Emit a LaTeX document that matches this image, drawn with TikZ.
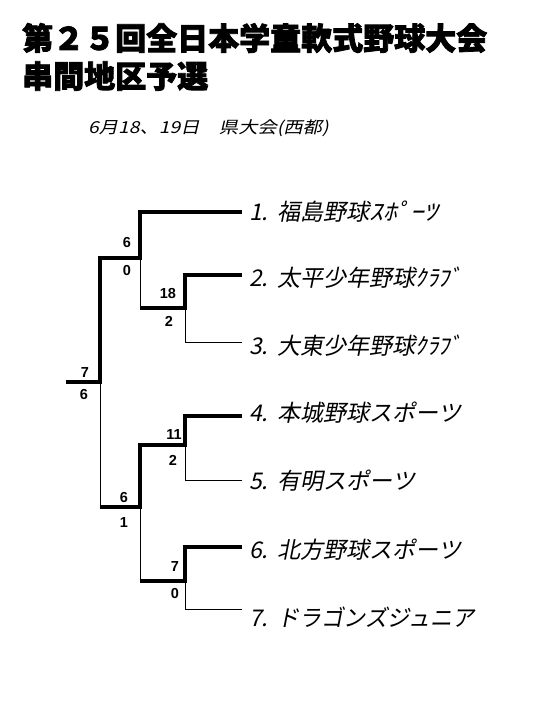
\documentclass[tikz,border=0pt]{standalone}
\usepackage{fontspec}
\usepackage{graphicx}
\newfontfamily\jp{Noto Sans CJK JP}[FakeBold=2.5]
\newfontfamily\jpsl{Noto Sans CJK JP}[FakeSlant=0.2]
\newfontfamily\scorefont{Liberation Sans}
\begin{document}
\begin{tikzpicture}[x=1pt,y=-1pt,
  thickline/.style={line width=4pt, line join=miter},
  thinline/.style={line width=1pt},
  title/.style={anchor=west, inner sep=0pt, font=\jp\bfseries\fontsize{31}{34}\selectfont},
  sub/.style={anchor=west, inner sep=0pt, font=\jpsl\fontsize{16.5}{18}\selectfont},
  team/.style={anchor=west, inner sep=0pt, font=\jpsl\fontsize{23}{25}\selectfont},
  score/.style={inner sep=0pt, font=\scorefont\bfseries\fontsize{14.5}{16}\selectfont}]
\useasboundingbox (0,0) rectangle (540,720);
\fill[white] (0,0) rectangle (540,720);
% titles
\node[title] (t1) at (22,38) {第２５回全日本学童軟式野球大会};
\node[title] (t2) at (22,76) {串間地区予選};
\node[sub] (st) at (88,128) {\scalebox{1.17}[1]{6月18、19日　県大会(西都)}};
% coordinates
\coordinate (e1) at (242,212);
\coordinate (e2) at (242,275);
\coordinate (e3) at (242,342);
\coordinate (e4) at (242,416);
\coordinate (e5) at (242,480);
\coordinate (e6) at (242,547);
\coordinate (e7) at (242,609);
\coordinate (m23) at (185,308);
\coordinate (m45) at (185,445);
\coordinate (m67) at (185,581);
\coordinate (j23) at (140,308);
\coordinate (j45) at (140,445);
\coordinate (j67) at (140,581);
\coordinate (s1) at (140,258);
\coordinate (s2) at (140,507);
\coordinate (f) at (100,382);
\coordinate (j2) at (100,507);
\coordinate (fl) at (66,382);
% thin lines
\draw[thinline] (s1) -- (j23);
\draw[thinline] (e3) -| (m23);
\draw[thinline] (f) -- (j2);
\draw[thinline] (e5) -| (m45);
\draw[thinline] (s2) -- (j67);
\draw[thinline] (e7) -| (m67);
% thick lines
\draw[thickline] (fl) -- (f) |- (s1) |- (e1);
\draw[thickline] (e2) -| (m23) -- (j23);
\draw[thickline] (e4) -| (m45) -- (j45) -- (s2) -- (j2);
\draw[thickline] (e6) -| (m67) -- (j67);
% team labels
\node[team] (n1) at (249,212) {1.\hspace{0.4em}福島野球\scalebox{1.2}[1]{ｽﾎﾟｰﾂ}};
\node[team] (n2) at (249,278) {2.\hspace{0.4em}太平少年野球ｸﾗﾌﾞ};
\node[team] (n3) at (249,346) {3.\hspace{0.4em}大東少年野球ｸﾗﾌﾞ};
\node[team] (n4) at (249,413) {4.\hspace{0.4em}本城野球スポーツ};
\node[team] (n5) at (249,481) {5.\hspace{0.4em}有明スポーツ};
\node[team] (n6) at (249,550) {6.\hspace{0.4em}北方野球スポーツ};
\node[team] (n7) at (249,617) {7.\hspace{0.4em}\scalebox{0.96}[1]{ドラゴンズジュニア}};
% scores
\node[score] (a1) at (127,243) {6};
\node[score] (a2) at (127,271) {0};
\node[score] (b1) at (168,294) {18};
\node[score] (b2) at (169,321) {2};
\node[score] (c1) at (85,373) {7};
\node[score] (c2) at (84,395) {6};
\node[score] (d1) at (174,435) {11};
\node[score] (d2) at (173,460) {2};
\node[score] (g1) at (124,498) {6};
\node[score] (g2) at (124,523) {1};
\node[score] (h1) at (175,567) {7};
\node[score] (h2) at (175,594) {0};
\end{tikzpicture}
\end{document}
